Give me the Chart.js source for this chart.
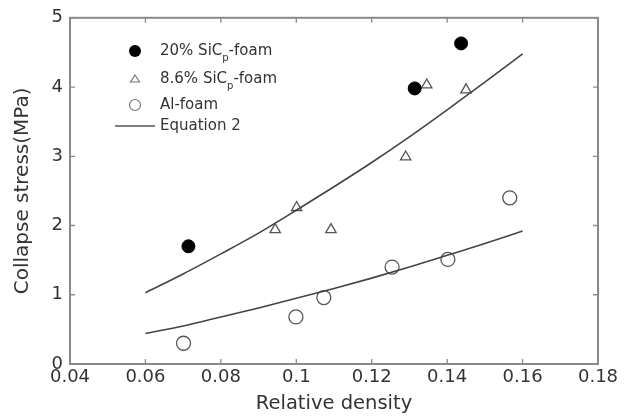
<!DOCTYPE html>
<html>
<head>
<meta charset="utf-8">
<script src="https://cdn.jsdelivr.net/npm/chart.js@4/dist/chart.umd.min.js"></script>
<style>
  body { margin: 0; background: #fff; }
  #wrap { width: 636px; height: 420px; position: relative; }
</style>
</head>
<body>
<div id="wrap"><canvas id="c"></canvas></div>
<script>
// data
const xTicks = [0.04, 0.06, 0.08, 0.10, 0.12, 0.14, 0.16, 0.18];
const yTicks = [0, 1, 2, 3, 4, 5];

const sic20X = [0.0714, 0.1314, 0.1437];
const sic20Y = [1.70, 3.98, 4.63];

const sic86X = [0.0944, 0.1001, 0.1092, 0.1290, 0.1346, 0.1450];
const sic86Y = [1.94, 2.26, 1.94, 2.99, 4.03, 3.96];

const alX = [0.0701, 0.0999, 0.1073, 0.1254, 0.1402, 0.1566];
const alY = [0.30, 0.68, 0.96, 1.40, 1.51, 2.40];

// Equation 2 curves
const eqX = [0.06, 0.07, 0.08, 0.09, 0.10, 0.11, 0.12, 0.13, 0.14, 0.15, 0.16];
const eqUpper = [1.03, 1.30, 1.59, 1.89, 2.22, 2.56, 2.91, 3.28, 3.67, 4.07, 4.48];
const eqLower = [0.44, 0.55, 0.68, 0.81, 0.95, 1.09, 1.24, 1.40, 1.57, 1.74, 1.92];

const pts = (xs, ys) => xs.map((x, i) => ({ x: x, y: ys[i] }));

const axisCol = '#8a8a8a';
const textCol = '#333';
const fontFam = '"DejaVu Sans", Arial, sans-serif';

// inward ticks + box frame
const framePlugin = {
    id: 'frame',
    afterDraw(chart) {
        const c = chart.ctx, a = chart.chartArea;
        const xs = chart.scales.x, ys = chart.scales.y;
        c.save();
        c.strokeStyle = axisCol;
        c.lineWidth = 2;
        c.strokeRect(a.left, a.top, a.right - a.left, a.bottom - a.top);
        c.lineWidth = 1.3;
        c.beginPath();
        xTicks.forEach(v => {
            const px = xs.getPixelForValue(v);
            c.moveTo(px, a.bottom); c.lineTo(px, a.bottom - 5);
            c.moveTo(px, a.top); c.lineTo(px, a.top + 5);
        });
        yTicks.forEach(v => {
            const py = ys.getPixelForValue(v);
            c.moveTo(a.left, py); c.lineTo(a.left + 5, py);
            c.moveTo(a.right, py); c.lineTo(a.right - 5, py);
        });
        c.stroke();
        c.restore();
    }
};

// legend with subscript p
const legendPlugin = {
    id: 'legendSub',
    afterDraw(chart) {
        const c = chart.ctx;
        const mx = 135, tx = 160;
        const rows = [51, 79, 105, 126];
        c.save();
        // markers
        c.fillStyle = '#000';
        c.beginPath(); c.arc(mx, rows[0], 6, 0, Math.PI * 2); c.fill();
        c.strokeStyle = '#777'; c.lineWidth = 1.2;
        c.beginPath();
        c.moveTo(mx, rows[1] - 4); c.lineTo(mx + 4.5, rows[1] + 3); c.lineTo(mx - 4.5, rows[1] + 3); c.closePath();
        c.stroke();
        c.beginPath(); c.arc(mx, rows[2], 5.5, 0, Math.PI * 2); c.stroke();
        c.strokeStyle = '#555'; c.lineWidth = 1.6;
        c.beginPath(); c.moveTo(115, rows[3]); c.lineTo(155, rows[3]); c.stroke();

        // labels
        c.fillStyle = textCol;
        c.textBaseline = 'middle';
        const big = '15px ' + fontFam, small = '10px ' + fontFam;
        function sub(y, a, b) {
            c.font = big;
            c.fillText(a, tx, y);
            let w = c.measureText(a).width;
            c.font = small;
            c.fillText('p', tx + w, y + 7);
            w += c.measureText('p').width;
            c.font = big;
            c.fillText(b, tx + w, y);
        }
        sub(rows[0], '20% SiC', '-foam');
        sub(rows[1], '8.6% SiC', '-foam');
        c.font = big;
        c.fillText('Al-foam', tx, rows[2]);
        c.fillText('Equation 2', tx, rows[3]);
        c.restore();
    }
};

new Chart(document.getElementById('c'), {
    type: 'scatter',
    data: {
        datasets: [
            {
                label: 'Equation 2',
                data: pts(eqX, eqUpper),
                showLine: true,
                borderColor: '#444',
                borderWidth: 1.6,
                pointRadius: 0,
                tension: 0.4,
                cubicInterpolationMode: 'monotone'
            },
            {
                label: 'Equation 2 (Al)',
                data: pts(eqX, eqLower),
                showLine: true,
                borderColor: '#444',
                borderWidth: 1.6,
                pointRadius: 0,
                tension: 0.4,
                cubicInterpolationMode: 'monotone'
            },
            {
                label: '20% SiCp-foam',
                data: pts(sic20X, sic20Y),
                pointStyle: 'circle',
                pointRadius: 6.5,
                backgroundColor: '#000',
                borderColor: '#000',
                borderWidth: 1
            },
            {
                label: '8.6% SiCp-foam',
                data: pts(sic86X, sic86Y),
                pointStyle: 'triangle',
                pointRadius: 6,
                backgroundColor: 'rgba(255,255,255,0)',
                borderColor: '#555',
                borderWidth: 1.3
            },
            {
                label: 'Al-foam',
                data: pts(alX, alY),
                pointStyle: 'circle',
                pointRadius: 7,
                backgroundColor: 'rgba(255,255,255,0)',
                borderColor: '#555',
                borderWidth: 1.3
            }
        ]
    },
    options: {
        responsive: true,
        maintainAspectRatio: false,
        animation: false,
        layout: { padding: { top: 16, right: 38, left: 0, bottom: 0 } },
        plugins: {
            legend: { display: false },
            tooltip: { enabled: false }
        },
        scales: {
            x: {
                type: 'linear',
                min: 0.04,
                max: 0.18,
                afterBuildTicks: s => { s.ticks = xTicks.map(v => ({ value: v })); },
                afterFit: s => { s.height = 56; },
                grid: { display: false, drawTicks: false },
                border: { display: false },
                ticks: {
                    color: textCol,
                    font: { family: fontFam, size: 18 },
                    padding: 3,
                    maxRotation: 0,
                    autoSkip: false,
                    callback: v => String(v)
                },
                title: {
                    display: true,
                    text: 'Relative density',
                    color: textCol,
                    font: { family: fontFam, size: 19.5 },
                    padding: { top: 0, bottom: 4 }
                }
            },
            y: {
                type: 'linear',
                min: 0,
                max: 5,
                afterBuildTicks: s => { s.ticks = yTicks.map(v => ({ value: v })); },
                afterFit: s => { s.width = 70; },
                grid: { display: false, drawTicks: false },
                border: { display: false },
                ticks: {
                    color: textCol,
                    font: { family: fontFam, size: 18 },
                    padding: 7,
                    autoSkip: false
                },
                title: {
                    display: true,
                    text: 'Collapse stress(MPa)',
                    color: textCol,
                    font: { family: fontFam, size: 20 },
                    padding: { top: 11, bottom: 0 }
                }
            }
        }
    },
    plugins: [framePlugin, legendPlugin]
});
</script>
</body>
</html>
